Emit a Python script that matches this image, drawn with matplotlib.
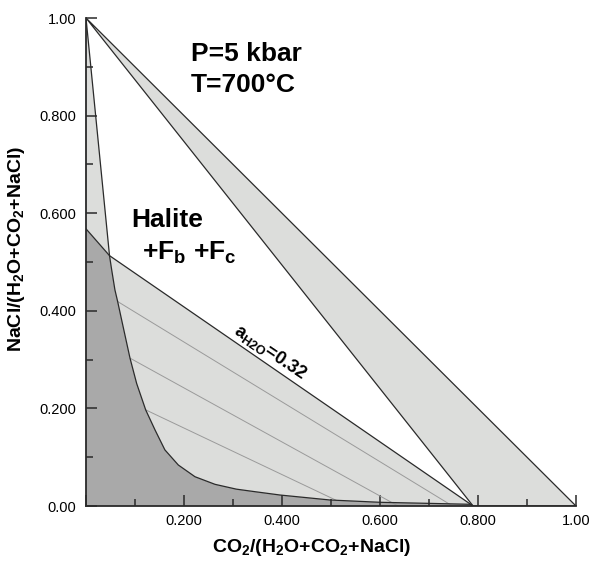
import matplotlib.pyplot as plt
import numpy as np
from matplotlib.ticker import MultipleLocator, FixedFormatter, FixedLocator

plt.rcParams['font.family'] = ['Liberation Sans', 'DejaVu Sans']
plt.rcParams['mathtext.fontset'] = 'custom'
plt.rcParams['mathtext.rm'] = 'Liberation Sans:bold'
plt.rcParams['mathtext.bf'] = 'Liberation Sans:bold'
plt.rcParams['mathtext.it'] = 'Liberation Sans:bold'

# halite saturation curve (from the NaCl apex down to the CO2-rich side)
curve_x = [0.000, 0.048, 0.0524, 0.059, 0.0646, 0.0728, 0.0898, 0.1034, 0.1218,
           0.1408, 0.161, 0.1884, 0.2224, 0.2633, 0.307, 0.345, 0.396, 0.498,
           0.600, 0.695, 0.784, 0.790]
curve_y = [1.000, 0.513, 0.484, 0.443, 0.419, 0.381, 0.303, 0.251, 0.197,
           0.156, 0.115, 0.084, 0.060, 0.0444, 0.0345, 0.0293, 0.0225, 0.0123,
           0.0076, 0.0055, 0.0035, 0.000]

# a_H2O = 0.32 isopleth
aw_x = [0.000, 0.048, 0.790]
aw_y = [0.568, 0.513, 0.000]

# right two-phase band
band_x = [0.000, 0.790, 1.000]
band_y = [1.000, 0.000, 0.000]

# tie lines inside the halite + fluid field
tie_x0 = [0.0646, 0.0898, 0.1218]
tie_y0 = [0.419, 0.303, 0.197]
tie_x1 = [0.748, 0.637, 0.512]
tie_y1 = [0.000, 0.000, 0.011]

xtick_vals = [0.0, 0.2, 0.4, 0.6, 0.8, 1.0]
xtick_labels = ['', '0.200', '0.400', '0.600', '0.800', '1.00']
ytick_vals = [0.0, 0.2, 0.4, 0.6, 0.8, 1.0]
ytick_labels = ['0.00', '0.200', '0.400', '0.600', '0.800', '1.00']

light = '#dcdddb'
dark = '#a9a9a9'
edge = '#2a2a2a'

fig = plt.figure(figsize=(5.9, 5.62), dpi=100)
ax = fig.add_axes([86 / 590, 1 - 506 / 562, 490 / 590, 488 / 562])

cx = np.array(curve_x)
cy = np.array(curve_y)
# dark field: under the curve and the isopleth stub
dk_x = [0.0, aw_x[0]] + list(cx[1:]) + [0.0]
dk_y = [0.0, aw_y[0]] + list(cy[1:]) + [0.0]
ax.fill(dk_x, dk_y, color=dark, lw=0)

# narrow field between the y axis and the steep curve above the isopleth
ax.fill([0.0, cx[1], aw_x[0]], [1.0, cy[1], aw_y[0]], color=light, lw=0)

# field between the curve and the isopleth
lg_x = list(aw_x[1:]) + list(cx[1:][::-1])
lg_y = list(aw_y[1:]) + list(cy[1:][::-1])
ax.fill(lg_x, lg_y, color=light, lw=0)

ax.fill(band_x, band_y, color=light, edgecolor=edge, lw=0.9)

for a, b, c, d in zip(tie_x0, tie_x1, tie_y0, tie_y1):
    ax.plot([a, b], [c, d], color='#9a9a9a', lw=0.7)

ax.plot(curve_x, curve_y, color=edge, lw=0.9)
ax.plot(aw_x, aw_y, color=edge, lw=0.9)

ax.set_xlim(0, 1)
ax.set_ylim(0, 1)
ax.spines['top'].set_visible(False)
ax.spines['right'].set_visible(False)
for s in ['left', 'bottom']:
    ax.spines[s].set_color(edge)
    ax.spines[s].set_linewidth(1.3)

ax.xaxis.set_major_locator(FixedLocator(xtick_vals))
ax.xaxis.set_major_formatter(FixedFormatter(xtick_labels))
ax.yaxis.set_major_locator(FixedLocator(ytick_vals))
ax.yaxis.set_major_formatter(FixedFormatter(ytick_labels))
ax.xaxis.set_minor_locator(MultipleLocator(0.1))
ax.yaxis.set_minor_locator(MultipleLocator(0.1))
ax.tick_params(which='both', direction='in', color=edge, width=1.1, labelsize=10.5)
ax.tick_params(which='major', length=8)
ax.tick_params(which='minor', length=5)
ax.tick_params(axis='x', pad=6)
ax.tick_params(axis='y', pad=7)

ax.set_xlabel(r'CO$_\mathbf{2}$/(H$_\mathbf{2}$O+CO$_\mathbf{2}$+NaCl)', fontsize=14,
              fontweight='bold', va='center')
ax.set_ylabel(r'NaCl/(H$_\mathbf{2}$O+CO$_\mathbf{2}$+NaCl)', fontsize=14,
              fontweight='bold', va='center')
ax.xaxis.set_label_coords(0.46, -0.086)
ax.yaxis.set_label_coords(-0.141, 0.526)

ax.text(0.214, 0.912, 'P=5 kbar', fontsize=19, fontweight='bold', va='baseline')
ax.text(0.214, 0.848, 'T=700°C', fontsize=19, fontweight='bold', va='baseline')
ax.text(0.093, 0.572, 'Halite', fontsize=19, fontweight='bold', va='baseline')
ax.text(0.115, 0.504, r'+F$_\mathbf{b}$ +F$_\mathbf{c}$', fontsize=19, fontweight='bold',
        va='baseline')
ax.text(0.376, 0.316, r'a$_\mathbf{H2O}$=0.32', fontsize=13, fontweight='bold',
        rotation=-34, ha='center', va='center', rotation_mode='anchor')

fig.savefig('out.png', dpi=100)
